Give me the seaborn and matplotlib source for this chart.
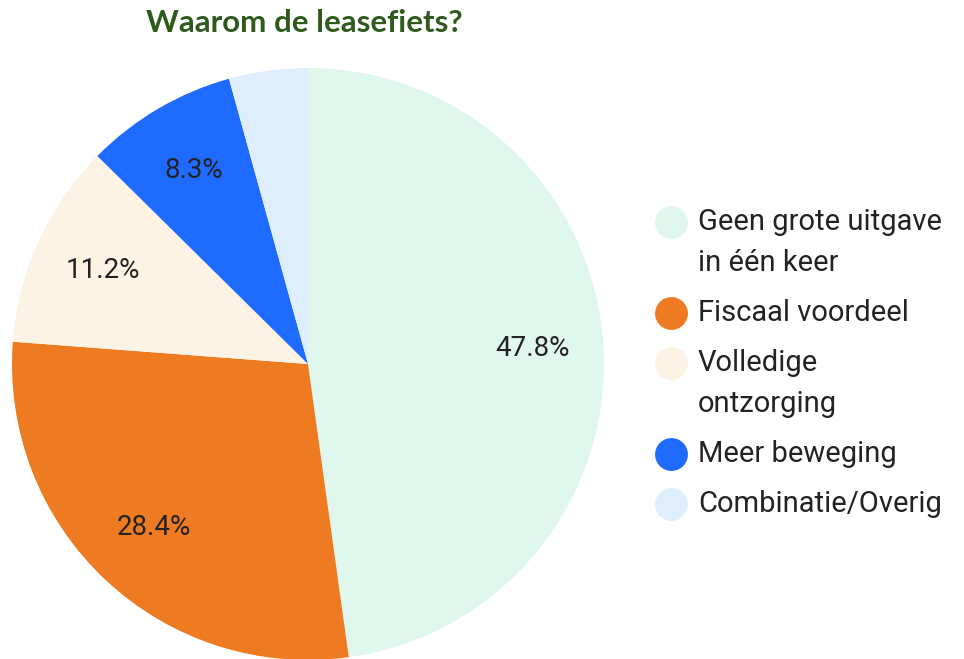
import matplotlib
matplotlib.use("Agg")
import matplotlib.pyplot as plt
import seaborn as sns

categories = ["Geen grote uitgave\nin één keer", "Fiscaal voordeel", "Volledige\nontzorging",
              "Meer beweging", "Combinatie/Overig"]
shares = [47.8, 28.4, 11.2, 8.3, 4.3]
colors = ["#dff7ec", "#ee7a22", "#fdf3e4", "#1f6bff", "#dfeefc"]
title = "Waarom de leasefiets?"

sns.set_theme(style="white")
plt.rcParams["font.family"] = ["Roboto", "DejaVu Sans"]

fig = plt.figure(figsize=(9.64, 6.59), dpi=100)
W, H = 964, 659
cx, cy, r = 308, 364, 296
ax = fig.add_axes([(cx - r) / W, (H - cy - r) / H, 2 * r / W, 2 * r / H])

def fmt(p):
    return f"{p:.1f}%" if p > 5 else ""

wedges, texts, autotexts = ax.pie(
    shares, colors=colors, startangle=90, counterclock=False,
    autopct=fmt, pctdistance=0.76, radius=1,
    wedgeprops=dict(linewidth=0),
    textprops=dict(fontsize=20, color="#222222"),
)
ax.set_xlim(-1, 1)
ax.set_ylim(-1, 1)
ax.set_aspect("equal")
ax.axis("off")

fig.text(304 / W, 1 - 23 / H, title, ha="center", va="center",
         fontsize=22.5, fontweight="bold", color="#2e5a1c", family=["Lato", "DejaVu Sans"])

# legend drawn in pixel coordinates so multi-line labels align like the original
lax = fig.add_axes([0, 0, 1, 1])
lax.set_xlim(0, W)
lax.set_ylim(H, 0)
lax.axis("off")
y = 222
for label, c in zip(categories, colors):
    lax.scatter([671], [y], s=560, color=c, linewidths=0)
    lines = label.split("\n")
    for i, line in enumerate(lines):
        lax.text(698, y + i * 41, line, ha="left", va="center", fontsize=21, color="#222222")
    y += 41 * (len(lines) - 1) + 50

fig.savefig("out.png", dpi=100)
